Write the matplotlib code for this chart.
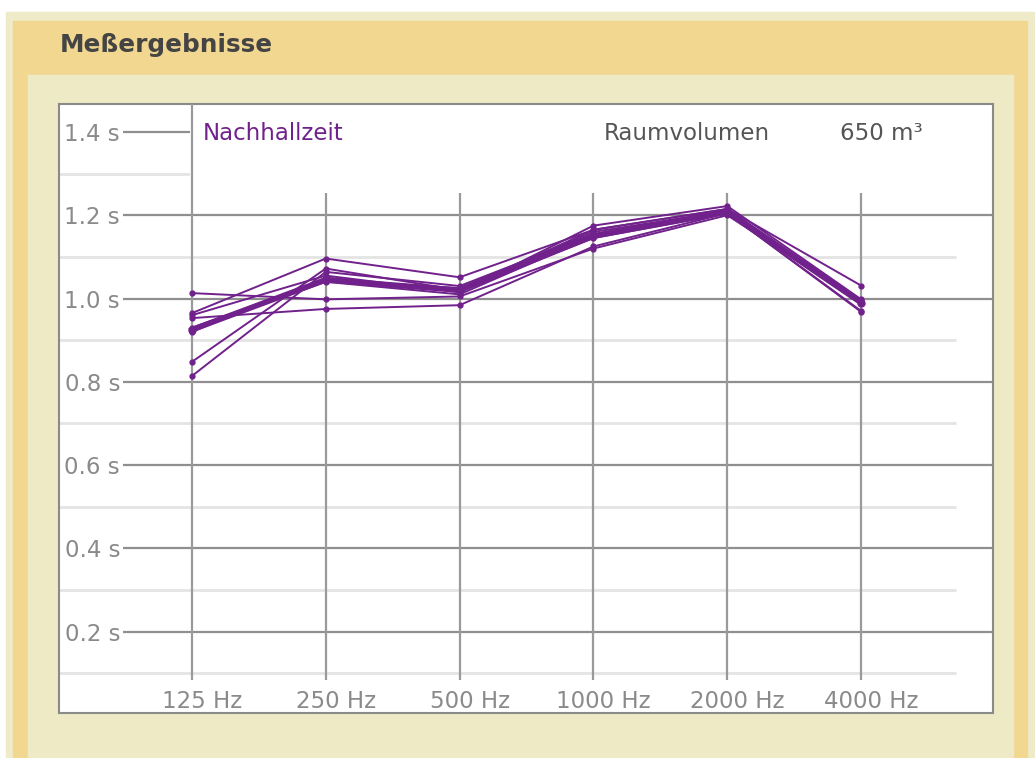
import matplotlib.pyplot as plt
from matplotlib.patches import Rectangle
from matplotlib.transforms import ScaledTranslation

# frequency bands and reverberation time curves (seconds)
bands = ['125 Hz', '250 Hz', '500 Hz', '1000 Hz', '2000 Hz', '4000 Hz']
run_a = [1.013, 0.998, 1.005, 1.120, 1.200, 0.990]
run_b = [0.965, 1.096, 1.051, 1.165, 1.215, 1.031]
run_c = [0.953, 0.975, 0.984, 1.125, 1.205, 0.968]
run_d = [0.814, 1.064, 1.030, 1.155, 1.210, 0.995]
run_e = [0.848, 1.072, 1.020, 1.145, 1.205, 0.990]
run_f = [0.960, 1.055, 1.015, 1.175, 1.222, 0.998]
run_g = [0.930, 1.045, 1.025, 1.160, 1.210, 0.990]
run_h = [0.925, 1.040, 1.010, 1.150, 1.205, 0.970]
run_i = [0.920, 1.050, 1.020, 1.165, 1.215, 0.995]
mean_curve = [0.925, 1.045, 1.020, 1.150, 1.208, 0.990]
runs = [run_a, run_b, run_c, run_d, run_e, run_f, run_g, run_h, run_i]

yticks = [0.2, 0.4, 0.6, 0.8, 1.0, 1.2, 1.4]
yminor = [0.1, 0.3, 0.5, 0.7, 0.9, 1.1, 1.3]
volume_label = 'Raumvolumen'
volume_value = '650 m³'

W, H = 1035, 758
purple = '#71218b'
fs = 16.5
fig = plt.figure(figsize=(W / 100, H / 100), dpi=100, facecolor='white')

# page background panels (pixel coords)
bg = fig.add_axes([0, 0, 1, 1])
bg.set_xlim(0, W)
bg.set_ylim(H, 0)
bg.axis('off')
bg.add_patch(Rectangle((6, 12), W, H, color='#efebc9'))
bg.add_patch(Rectangle((13, 21), 1014, H, color='#f2d791'))
bg.add_patch(Rectangle((28, 75), 985, H, color='#eeeac6'))
bg.text(60, 45, 'Meßergebnisse', fontsize=17.8, fontweight='bold',
        color='#444444', va='center', ha='left')

# chart area
L, R, T, B = 59, 993, 104, 713
ax = fig.add_axes([L / W, 1 - B / H, (R - L) / W, (B - T) / H])
ax.set_facecolor('white')
x = list(range(len(bands)))
ax.set_xlim(-0.993, 5.985)
ax.set_ylim(0.005, 1.467)
for s in ax.spines.values():
    s.set_color('#8a8a8a')
    s.set_linewidth(1.5)

# grid
for v in yminor:
    ax.hlines(v, -0.993, 5.71, color='#e4e4e4', lw=2, zorder=1)
for v in yticks:
    ax.hlines(v, -0.515, 5.985, color='#8f8f8f', lw=1.6, zorder=1)
for xi in x:
    ax.vlines(xi, 0.084, 1.253, color='#9a9a9a', lw=1.6, zorder=1)

# legend box hiding the top of the grid
ax.add_patch(Rectangle((-0.015, 1.255), 7, 0.3, facecolor='white',
                       edgecolor='none', zorder=2))
ax.vlines(0, 1.253, 1.467, color='#9a9a9a', lw=1.6, zorder=3)

for r in runs:
    ax.plot(x, r, color=purple, lw=1.4, marker='o', ms=3.5, zorder=4)
ax.plot(x, mean_curve, color=purple, lw=4, marker='o', ms=5, zorder=5)

ax.text(0.08, 1.397, 'Nachhallzeit', color=purple, fontsize=fs,
        va='center', ha='left', zorder=6)
ax.text(3.08, 1.397, volume_label, color='#555555', fontsize=fs,
        va='center', ha='left', zorder=6)
ax.text(4.84, 1.397, volume_value, color='#555555', fontsize=fs,
        va='center', ha='left', zorder=6)

ax.set_xticks(x)
ax.set_xticklabels(bands)
ax.set_yticks(yticks)
ax.set_yticklabels([f'{v:.1f} s' for v in yticks])
ax.tick_params(axis='x', length=0, pad=-16.5, labelsize=fs, labelcolor='#8a8a8a')
ax.tick_params(axis='y', length=0, pad=-44, labelsize=fs, labelcolor='#8a8a8a')
shift = ScaledTranslation(0.10, 0, fig.dpi_scale_trans)
for lab in ax.get_xticklabels():
    lab.set_transform(lab.get_transform() + shift)
for lab in ax.get_yticklabels():
    lab.set_zorder(6)

fig.savefig('out.png', dpi=100, facecolor=fig.get_facecolor())
